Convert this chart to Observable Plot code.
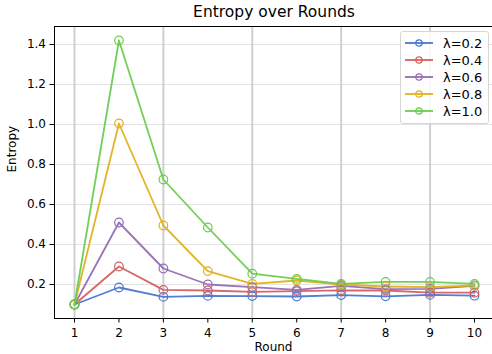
<!DOCTYPE html>
<html>
<head>
<meta charset="utf-8">
<script src="https://cdn.jsdelivr.net/npm/d3@7"></script>
<script src="https://cdn.jsdelivr.net/npm/@observablehq/plot@0.6"></script>
<style>
  body { margin: 0; background: #fff; font-family: "DejaVu Sans", sans-serif; }
  #wrap { position: relative; width: 492px; height: 354px; overflow: hidden; }
  #title { position: absolute; left: 54px; width: 440px; top: 3px; text-align: center; font-size: 15.5px; color: #000; }
  #chart { position: absolute; left: 0; top: 22px; }
  #legend { position: absolute; left: 400px; top: 31px; width: 89px; height: 93px; border: 1px solid #d6d6d6; border-radius: 3px; background: rgba(255,255,255,0.85); box-sizing: border-box; font-size: 13px; }
  .item { position: absolute; left: 4px; height: 16px; display: flex; align-items: center; }
  .item span { margin-left: 10px; color: #000; }
</style>
</head>
<body>
<div id="wrap">
  <div id="title">Entropy over Rounds</div>
  <div id="chart"></div>
  <div id="legend"></div>
</div>
<script>
const rounds = [1, 2, 3, 4, 5, 6, 7, 8, 9, 10];
const seriesNames = ["λ=0.2", "λ=0.4", "λ=0.6", "λ=0.8", "λ=1.0"];
const seriesColors = ["#4878d0", "#d65f5f", "#956cb4", "#e0b01c", "#6acc4f"];
const lam02 = [0.100, 0.185, 0.138, 0.143, 0.142, 0.140, 0.147, 0.141, 0.148, 0.144];
const lam04 = [0.100, 0.290, 0.173, 0.170, 0.163, 0.167, 0.171, 0.170, 0.159, 0.159];
const lam06 = [0.100, 0.510, 0.280, 0.200, 0.187, 0.173, 0.193, 0.177, 0.178, 0.193];
const lam08 = [0.100, 1.005, 0.495, 0.267, 0.203, 0.220, 0.200, 0.190, 0.187, 0.195];
const lam10 = [0.100, 1.420, 0.725, 0.485, 0.254, 0.228, 0.203, 0.213, 0.213, 0.203];
const yTicks = [0.2, 0.4, 0.6, 0.8, 1.0, 1.2, 1.4];
const gridRounds = [1, 3, 5, 7, 9];
const xDomain = [0.55, 10.405];
const yDomain = [0.03, 1.49];

const allSeries = [lam02, lam04, lam06, lam08, lam10];
const rows = allSeries.flatMap((vals, i) =>
  vals.map((v, j) => ({ round: rounds[j], value: v, series: seriesNames[i] })));

const chart = Plot.plot({
  width: 492,
  height: 332,
  marginLeft: 54,
  marginRight: 0,
  marginTop: 4,
  marginBottom: 36,
  style: { fontFamily: "DejaVu Sans, sans-serif", fontSize: "12px", color: "#000", background: "#fff" },
  x: { domain: xDomain, label: null },
  y: { domain: yDomain, label: null },
  color: { domain: seriesNames, range: seriesColors },
  marks: [
    Plot.ruleY(yTicks, { stroke: "#e4e4e4", strokeWidth: 1 }),
    Plot.ruleX(gridRounds, { stroke: "#cfcfcf", strokeWidth: 2 }),
    Plot.line(rows, { x: "round", y: "value", z: "series", stroke: "series", strokeWidth: 1.8, strokeOpacity: 0.95 }),
    Plot.dot(rows, { x: "round", y: "value", stroke: "series", fill: "none", r: 4.3, strokeWidth: 1.2 }),
    Plot.ruleX([xDomain[0]], { stroke: "#000", strokeWidth: 1 }),
    Plot.ruleY([yDomain[0]], { stroke: "#000", strokeWidth: 1 }),
    Plot.ruleY([yDomain[1]], { stroke: "#000", strokeWidth: 1 }),
    Plot.axisX({ ticks: rounds, tickFormat: d => String(d), tickSize: 4.5, tickPadding: 5, label: null, fontSize: 12 }),
    Plot.axisY({ ticks: yTicks, tickFormat: d3.format(".1f"), tickSize: 4.5, tickPadding: 4, label: null, fontSize: 12 }),
    Plot.text(["Round"], { frameAnchor: "bottom", dy: 29, lineAnchor: "middle", fontSize: 12, fill: "#000" }),
    Plot.text(["Entropy"], { frameAnchor: "left", dx: -42, rotate: -90, fontSize: 12, fill: "#000" })
  ]
});
document.getElementById("chart").appendChild(chart);

const legend = document.getElementById("legend");
seriesNames.forEach((name, i) => {
  const item = document.createElement("div");
  item.className = "item";
  item.style.top = (3 + i * 17) + "px";
  item.innerHTML = `<svg width="28" height="10"><line x1="0" y1="5" x2="28" y2="5" stroke="${seriesColors[i]}" stroke-width="1.8"/><circle cx="14" cy="5" r="3.2" fill="none" stroke="${seriesColors[i]}" stroke-width="1.2"/></svg><span>${name}</span>`;
  legend.appendChild(item);
});
</script>
</body>
</html>
